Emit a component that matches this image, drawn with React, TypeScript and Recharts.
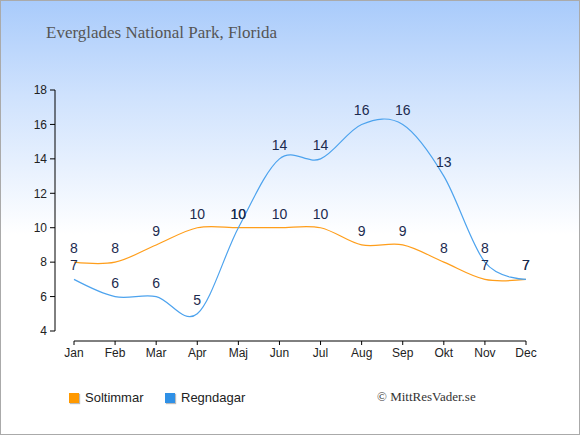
import React from 'react';
import { LineChart, Line, XAxis, YAxis, LabelList } from 'recharts';

const months = ['Jan', 'Feb', 'Mar', 'Apr', 'Maj', 'Jun', 'Jul', 'Aug', 'Sep', 'Okt', 'Nov', 'Dec'];
const sunHours = [8, 8, 9, 10, 10, 10, 10, 9, 9, 8, 7, 7];
const rainDays = [7, 6, 6, 5, 10, 14, 14, 16, 16, 13, 8, 7];
const yTicks = [4, 6, 8, 10, 12, 14, 16, 18];
const seriesNames = ['Soltimmar', 'Regndagar'];
const seriesColors = ['#ff9e1b', '#4da3ee'];
const legendColors = ['#ff9900', '#2f90e6'];

const data = months.map((m, i) => ({ month: m, sun: sunHours[i], rain: rainDays[i] }));

// cardinal spline, same maths as d3.curveCardinal with tension 0
function cardinalCurve(context: any) {
  const k = 1 / 6;
  const c: any = {
    _line: NaN,
    _point: 0,
    areaStart() { c._line = 0; },
    areaEnd() { c._line = NaN; },
    lineStart() {
      c._x0 = c._x1 = c._x2 = c._y0 = c._y1 = c._y2 = NaN;
      c._point = 0;
    },
    lineEnd() {
      if (c._point === 2) context.lineTo(c._x2, c._y2);
      else if (c._point === 3) seg(c._x1, c._y1);
      if (c._line || (c._line !== 0 && c._point === 1)) context.closePath();
      c._line = 1 - c._line;
    },
    point(x: number, y: number) {
      x = +x; y = +y;
      if (c._point === 0) {
        c._point = 1;
        c._line ? context.lineTo(x, y) : context.moveTo(x, y);
      } else if (c._point === 1) {
        c._point = 2;
        c._x1 = x; c._y1 = y;
      } else {
        c._point = 3;
        seg(x, y);
      }
      c._x0 = c._x1; c._x1 = c._x2; c._x2 = x;
      c._y0 = c._y1; c._y1 = c._y2; c._y2 = y;
    },
  };
  function seg(x: number, y: number) {
    context.bezierCurveTo(
      c._x1 + k * (c._x2 - c._x0),
      c._y1 + k * (c._y2 - c._y0),
      c._x2 + k * (c._x1 - x),
      c._y2 + k * (c._y1 - y),
      c._x2,
      c._y2
    );
  }
  return c;
}

const labelStyle = { fill: '#1c2b4f', fontSize: 14, fontFamily: 'Liberation Sans, Arial, sans-serif' };

export default function App() {
  return (
    <div
      style={{
        position: 'absolute',
        left: 0,
        top: 0,
        width: 578,
        height: 433,
        border: '1px solid #aaaaaa',
        background: 'linear-gradient(to bottom, #a9cbfb 0%, #cfe2fd 22%, #ffffff 54%, #ffffff 100%)',
        fontFamily: 'Liberation Sans, Arial, sans-serif',
      }}
    >
      <div
        style={{
          position: 'absolute',
          left: 45,
          top: 22,
          fontFamily: 'Liberation Serif, serif',
          fontSize: 17,
          color: '#555555',
        }}
      >
        Everglades National Park, Florida
      </div>
      <div style={{ position: 'absolute', left: -1, top: -1 }}>
        <LineChart width={580} height={435} data={data} margin={{ top: 90, right: 54, left: 0, bottom: 64 }}>
          <XAxis
            dataKey="month"
            padding={{ left: 19, right: 0 }}
            axisLine={{ stroke: '#000', strokeDasharray: '0 19 600' }}
            tickLine={{ stroke: '#000' }}
            tickSize={4}
            tickMargin={3}
            height={30}
            tick={{ fill: '#222', fontSize: 12 }}
            interval={0}
          />
          <YAxis
            domain={[4, 18]}
            ticks={yTicks}
            width={55}
            padding={{ top: 0, bottom: 10 }}
            axisLine={{ stroke: '#000', strokeDasharray: '241 100' }}
            tickLine={{ stroke: '#000' }}
            tickSize={5}
            tickMargin={3}
            tick={{ fill: '#222', fontSize: 12 }}
            interval={0}
          />
          <Line
            dataKey="sun"
            name={seriesNames[0]}
            type={cardinalCurve as any}
            stroke={seriesColors[0]}
            strokeWidth={1.2}
            dot={false}
            activeDot={false}
            isAnimationActive={false}
          >
            <LabelList dataKey="sun" position="top" offset={9} style={labelStyle} />
          </Line>
          <Line
            dataKey="rain"
            name={seriesNames[1]}
            type={cardinalCurve as any}
            stroke={seriesColors[1]}
            strokeWidth={1.2}
            dot={false}
            activeDot={false}
            isAnimationActive={false}
          >
            <LabelList dataKey="rain" position="top" offset={9} style={labelStyle} />
          </Line>
        </LineChart>
      </div>
      {seriesNames.map((name, i) => (
        <div
          key={name}
          style={{
            position: 'absolute',
            left: i === 0 ? 68 : 164,
            top: 389,
            display: 'flex',
            alignItems: 'center',
            fontSize: 13,
            color: '#222',
          }}
        >
          <span
            style={{
              display: 'inline-block',
              width: 10,
              height: 10,
              background: legendColors[i],
              boxShadow: '1px 1px 1px #bbb',
              marginRight: 6,
            }}
          />
          {name}
        </div>
      ))}
      <div
        style={{
          position: 'absolute',
          left: 376,
          top: 388,
          fontFamily: 'Liberation Serif, serif',
          fontSize: 13,
          color: '#333',
        }}
      >
        © MittResVader.se
      </div>
    </div>
  );
}
